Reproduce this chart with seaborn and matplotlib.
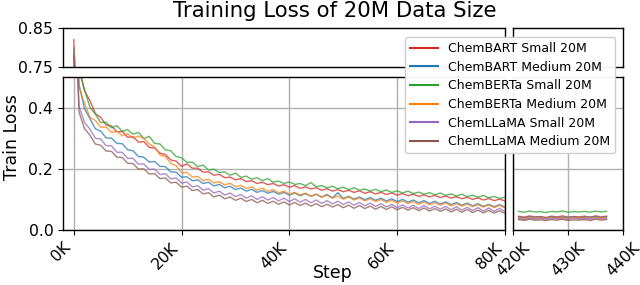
#%% libraries
import pandas as pd
import seaborn as sb
import matplotlib.pyplot as plt
from matplotlib.lines import Line2D


models = ['ChemBART Small 20M', 'ChemBART Medium 20M', 'ChemBERTa Small 20M',
          'ChemBERTa Medium 20M', 'ChemLLaMA Small 20M', 'ChemLLaMA Medium 20M']
colors = ['#d62728', '#1f77b4', '#2ca02c', '#ff7f0e', '#9467bd', '#8c564b']

# first part of training, 0 - 80k steps
steps_a = list(range(0, 80001, 1000))
# last part of training, 421k - 437k steps
steps_b = list(range(421000, 437001, 1000))

bart_small_a = [0.820, 0.531, 0.455, 0.423, 0.380, 0.368, 0.343, 0.340, 0.321, 0.322,
                0.303, 0.305, 0.287, 0.289, 0.270, 0.268, 0.251, 0.247, 0.229, 0.225,
                0.208, 0.216, 0.202, 0.202, 0.189, 0.190, 0.179, 0.182, 0.171, 0.173,
                0.164, 0.168, 0.158, 0.161, 0.152, 0.156, 0.148, 0.152, 0.144, 0.148,
                0.140, 0.145, 0.136, 0.141, 0.134, 0.138, 0.130, 0.135, 0.127, 0.132,
                0.125, 0.130, 0.123, 0.128, 0.120, 0.125, 0.118, 0.123, 0.116, 0.121,
                0.114, 0.119, 0.112, 0.117, 0.110, 0.115, 0.108, 0.113, 0.106, 0.111,
                0.104, 0.109, 0.102, 0.107, 0.100, 0.105, 0.098, 0.103, 0.096, 0.101,
                0.095]
bart_medium_a = [0.780, 0.474, 0.396, 0.364, 0.331, 0.323, 0.301, 0.300, 0.283, 0.282,
                 0.262, 0.259, 0.240, 0.238, 0.222, 0.224, 0.208, 0.207, 0.190, 0.189,
                 0.172, 0.174, 0.161, 0.164, 0.152, 0.156, 0.144, 0.149, 0.138, 0.143,
                 0.132, 0.137, 0.127, 0.133, 0.123, 0.129, 0.120, 0.126, 0.117, 0.123,
                 0.114, 0.121, 0.112, 0.119, 0.110, 0.117, 0.108, 0.116, 0.105, 0.122,
                 0.103, 0.110, 0.101, 0.108, 0.099, 0.106, 0.097, 0.104, 0.095, 0.102,
                 0.093, 0.100, 0.091, 0.098, 0.089, 0.096, 0.087, 0.094, 0.085, 0.092,
                 0.083, 0.090, 0.081, 0.088, 0.079, 0.086, 0.077, 0.084, 0.076, 0.083,
                 0.075]
berta_small_a = [0.800, 0.520, 0.458, 0.401, 0.379, 0.351, 0.352, 0.334, 0.341, 0.322,
                 0.328, 0.313, 0.319, 0.299, 0.306, 0.283, 0.281, 0.262, 0.259, 0.240,
                 0.236, 0.221, 0.222, 0.207, 0.212, 0.196, 0.199, 0.188, 0.190, 0.179,
                 0.186, 0.172, 0.176, 0.166, 0.171, 0.161, 0.168, 0.156, 0.160, 0.152,
                 0.157, 0.149, 0.152, 0.145, 0.155, 0.141, 0.145, 0.138, 0.143, 0.135,
                 0.140, 0.132, 0.138, 0.130, 0.134, 0.127, 0.133, 0.125, 0.131, 0.123,
                 0.128, 0.121, 0.127, 0.119, 0.124, 0.117, 0.122, 0.115, 0.121, 0.113,
                 0.118, 0.111, 0.117, 0.109, 0.114, 0.107, 0.113, 0.105, 0.110, 0.103,
                 0.107]
berta_medium_a = [0.790, 0.466, 0.414, 0.368, 0.358, 0.336, 0.336, 0.319, 0.323, 0.308,
                  0.315, 0.300, 0.307, 0.299, 0.281, 0.272, 0.245, 0.240, 0.218, 0.210,
                  0.187, 0.188, 0.173, 0.175, 0.161, 0.166, 0.154, 0.158, 0.147, 0.153,
                  0.141, 0.146, 0.136, 0.141, 0.130, 0.137, 0.126, 0.132, 0.121, 0.127,
                  0.117, 0.123, 0.114, 0.120, 0.111, 0.117, 0.107, 0.114, 0.104, 0.111,
                  0.101, 0.108, 0.098, 0.105, 0.095, 0.102, 0.093, 0.100, 0.090, 0.097,
                  0.088, 0.095, 0.086, 0.093, 0.084, 0.091, 0.082, 0.089, 0.081, 0.088,
                  0.079, 0.086, 0.078, 0.085, 0.076, 0.083, 0.075, 0.082, 0.073, 0.081,
                  0.072]
llama_small_a = [0.790, 0.404, 0.351, 0.330, 0.300, 0.297, 0.276, 0.275, 0.254, 0.254,
                 0.234, 0.234, 0.215, 0.216, 0.198, 0.199, 0.181, 0.184, 0.167, 0.170,
                 0.153, 0.157, 0.141, 0.145, 0.130, 0.135, 0.121, 0.127, 0.114, 0.121,
                 0.109, 0.116, 0.104, 0.112, 0.100, 0.109, 0.098, 0.106, 0.095, 0.104,
                 0.093, 0.102, 0.091, 0.100, 0.089, 0.098, 0.087, 0.096, 0.085, 0.094,
                 0.083, 0.092, 0.081, 0.090, 0.079, 0.088, 0.077, 0.086, 0.075, 0.084,
                 0.073, 0.082, 0.072, 0.081, 0.070, 0.080, 0.069, 0.078, 0.068, 0.077,
                 0.066, 0.076, 0.065, 0.074, 0.064, 0.073, 0.062, 0.072, 0.061, 0.071,
                 0.060]
llama_medium_a = [0.780, 0.384, 0.331, 0.310, 0.281, 0.277, 0.258, 0.257, 0.238, 0.237,
                  0.218, 0.217, 0.199, 0.200, 0.183, 0.184, 0.168, 0.170, 0.154, 0.156,
                  0.140, 0.143, 0.129, 0.132, 0.118, 0.122, 0.108, 0.114, 0.102, 0.108,
                  0.097, 0.104, 0.093, 0.100, 0.089, 0.097, 0.087, 0.094, 0.084, 0.092,
                  0.082, 0.090, 0.080, 0.088, 0.078, 0.086, 0.076, 0.084, 0.075, 0.083,
                  0.073, 0.081, 0.071, 0.080, 0.070, 0.078, 0.068, 0.077, 0.067, 0.076,
                  0.066, 0.074, 0.065, 0.073, 0.063, 0.072, 0.062, 0.070, 0.061, 0.069,
                  0.059, 0.068, 0.058, 0.067, 0.057, 0.065, 0.056, 0.064, 0.055, 0.063,
                  0.054]

bart_small_b = [0.045, 0.042, 0.046, 0.043, 0.044, 0.041, 0.045, 0.043, 0.046,
                0.042, 0.044, 0.043, 0.045, 0.042, 0.046, 0.043, 0.045]
bart_medium_b = [0.042, 0.040, 0.043, 0.041, 0.042, 0.039, 0.043, 0.040, 0.042,
                 0.041, 0.043, 0.040, 0.042, 0.041, 0.044, 0.040, 0.043]
berta_small_b = [0.061, 0.058, 0.062, 0.059, 0.060, 0.057, 0.061, 0.059, 0.062,
                 0.058, 0.060, 0.059, 0.061, 0.058, 0.062, 0.059, 0.061]
berta_medium_b = [0.040, 0.038, 0.041, 0.039, 0.040, 0.038, 0.041, 0.039, 0.040,
                  0.038, 0.041, 0.039, 0.040, 0.038, 0.041, 0.039, 0.040]
llama_small_b = [0.037, 0.035, 0.038, 0.036, 0.037, 0.035, 0.038, 0.036, 0.037,
                 0.035, 0.038, 0.036, 0.037, 0.035, 0.038, 0.036, 0.037]
llama_medium_b = [0.034, 0.031, 0.035, 0.032, 0.033, 0.031, 0.034, 0.032, 0.035,
                  0.031, 0.033, 0.032, 0.034, 0.031, 0.035, 0.032, 0.034]

#%% long form tables for seaborn
series_a = [bart_small_a, bart_medium_a, berta_small_a, berta_medium_a, llama_small_a, llama_medium_a]
series_b = [bart_small_b, bart_medium_b, berta_small_b, berta_medium_b, llama_small_b, llama_medium_b]

part_a = pd.concat([pd.DataFrame({'Step': steps_a, 'Loss': vals, 'Model': m})
                    for m, vals in zip(models, series_a)], ignore_index=True)
part_b = pd.concat([pd.DataFrame({'Step': steps_b, 'Loss': vals, 'Model': m})
                    for m, vals in zip(models, series_b)], ignore_index=True)

#%% broken axis plot
fig = plt.figure(figsize=(6.4, 2.85), dpi=100)
ax_tl = fig.add_axes([0.0984, 0.7649, 0.6906, 0.1368])
ax_bl = fig.add_axes([0.0984, 0.1930, 0.6906, 0.5368])
ax_tr = fig.add_axes([0.8016, 0.7649, 0.1719, 0.1368])
ax_br = fig.add_axes([0.8016, 0.1930, 0.1719, 0.5368])

for ax, df in [(ax_tl, part_a), (ax_bl, part_a), (ax_tr, part_b), (ax_br, part_b)]:
    sb.lineplot(data=df, x='Step', y='Loss', hue='Model', hue_order=models, palette=colors,
                estimator=None, linewidth=1.0, alpha=0.75, legend=False, ax=ax)
    ax.set_xlabel('')
    ax.set_ylabel('')
    for s in ax.spines.values():
        s.set_linewidth(1.0)

ax_tl.set_xlim(-2000, 80000)
ax_bl.set_xlim(-2000, 80000)
ax_tr.set_xlim(420000, 440000)
ax_br.set_xlim(420000, 440000)
ax_tl.set_ylim(0.75, 0.85)
ax_tr.set_ylim(0.75, 0.85)
ax_bl.set_ylim(0, 0.5)
ax_br.set_ylim(0, 0.5)

# top panels only show the start spike
ax_tl.set_xticks([])
ax_tl.set_yticks([0.75, 0.85])
ax_tl.set_yticklabels(['0.75', '0.85'])
ax_tr.set_xticks([])
ax_tr.set_yticks([])

ax_bl.set_xticks([0, 20000, 40000, 60000, 80000])
ax_bl.set_xticklabels(['0K', '20K', '40K', '60K', '80K'], rotation=45, ha='right')
ax_bl.set_yticks([0.0, 0.2, 0.4])
ax_bl.set_yticklabels(['0.0', '0.2', '0.4'])
ax_br.set_xticks([420000, 430000, 440000])
ax_br.set_xticklabels(['420K', '430K', '440K'], rotation=45, ha='center')
ax_br.set_yticks([0.0, 0.2, 0.4])
ax_br.tick_params(axis='y', length=0, labelleft=False)

for ax in [ax_tl, ax_bl, ax_tr, ax_br]:
    ax.tick_params(labelsize=11.3)

ax_bl.grid(True, color='#b0b0b0', linewidth=1.0)
ax_br.grid(True, color='#b0b0b0', linewidth=1.0)

fig.text(0.523, 0.961, 'Training Loss of 20M Data Size', ha='center', va='center', fontsize=15.3)
fig.text(0.52, 0.042, 'Step', ha='center', va='center', fontsize=12.5)
fig.text(0.019, 0.52, 'Train Loss', ha='center', va='center', rotation=90, fontsize=12.5)

handles = [Line2D([0], [0], color=c, linewidth=1.5) for c in colors]
fig.legend(handles, models, loc='upper right', bbox_to_anchor=(0.961, 0.870),
           fontsize=9, handlelength=2.2, labelspacing=0.45, framealpha=0.95,
           borderaxespad=0)

plt.savefig('out.png', dpi=100)
